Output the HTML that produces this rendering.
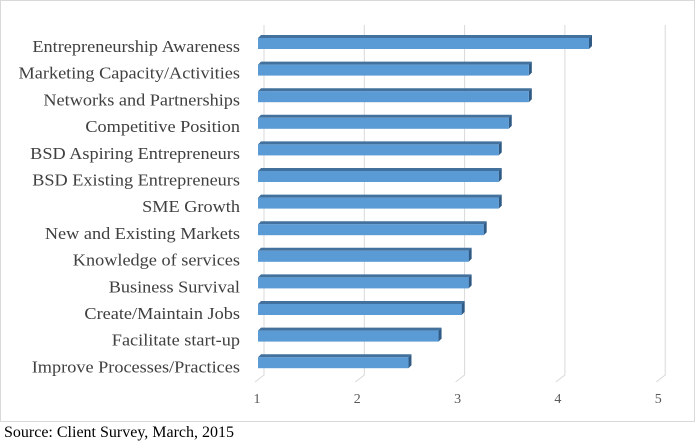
<!DOCTYPE html>
<html><head><meta charset="utf-8"><style>
body{margin:0;background:#fff;width:699px;height:441px;overflow:hidden}
svg{position:absolute;left:0;top:0}
text{font-family:"Liberation Serif",serif}
</style></head><body>
<svg width="699" height="441">
<rect x="0.5" y="0.5" width="694" height="421" fill="#fff" stroke="#d9d9d9"/>
<g id="grid"></g><g id="bars"></g><g id="labels" transform="translate(240,0) scale(1.1,1) translate(-240,0)"></g><g id="ticks"></g>
<text x="4" y="437" font-size="16" fill="#000">Source: Client Survey, March, 2015</text>
</svg>
<script>
const categories=["Entrepreneurship Awareness","Marketing Capacity/Activities","Networks and Partnerships","Competitive Position","BSD Aspiring Entrepreneurs","BSD Existing Entrepreneurs","SME Growth","New and Existing Markets","Knowledge of services","Business Survival","Create/Maintain Jobs","Facilitate start-up","Improve Processes/Practices"];
const values=[4.3,3.7,3.7,3.5,3.4,3.4,3.4,3.25,3.1,3.1,3.03,2.8,2.5];
const tickLabels=["1","2","3","4","5"];
const tickValues=[1,2,3,4,5];
const NS="http://www.w3.org/2000/svg";
function x(v){return 258+(v-1)*100.3;}
function yc(i){return 43+i*26.6;}
function ly(i){return 52+i*26.7;}
function mk(t,a,p){const e=document.createElementNS(NS,t);for(const k in a)e.setAttribute(k,a[k]);p.appendChild(e);return e;}
const grid=document.getElementById('grid'),bars=document.getElementById('bars'),labels=document.getElementById('labels'),ticks=document.getElementById('ticks');
tickValues.forEach((t,i)=>{
  const gx=x(t)+6;
  const l=mk('polyline',{points:`${gx},25 ${gx},375 ${gx-9},382`,fill:'none',stroke:'#d9d9d9','stroke-width':1},grid);
  
  
  const tx=mk('text',{x:x(t)-1,y:403,'font-size':14,fill:'#595959','text-anchor':'middle'},ticks);
  tx.textContent=tickLabels[i];
  
  
});
categories.forEach((c,i)=>{
  const x0=x(1),x1=x(values[i]),y=yc(i)-5,h=11,d=3;
  const g=mk('g',{},bars);
  
  
  mk('polygon',{points:`${x0},${y} ${x0+d},${y-d} ${x1+d},${y-d} ${x1},${y}`,fill:'#41719c'},g);
  mk('polygon',{points:`${x1},${y} ${x1+d},${y-d} ${x1+d},${y+h-d} ${x1},${y+h}`,fill:'#2e5a85'},g);
  mk('rect',{x:x0,y:y,width:x1-x0,height:h,fill:'#5b9bd5'},g);
  const t=mk('text',{x:240,y:ly(i),'font-size':16.6,fill:'#404040','text-anchor':'end'},labels);
  t.textContent=c;
  
  
});
</script>
</body></html>
